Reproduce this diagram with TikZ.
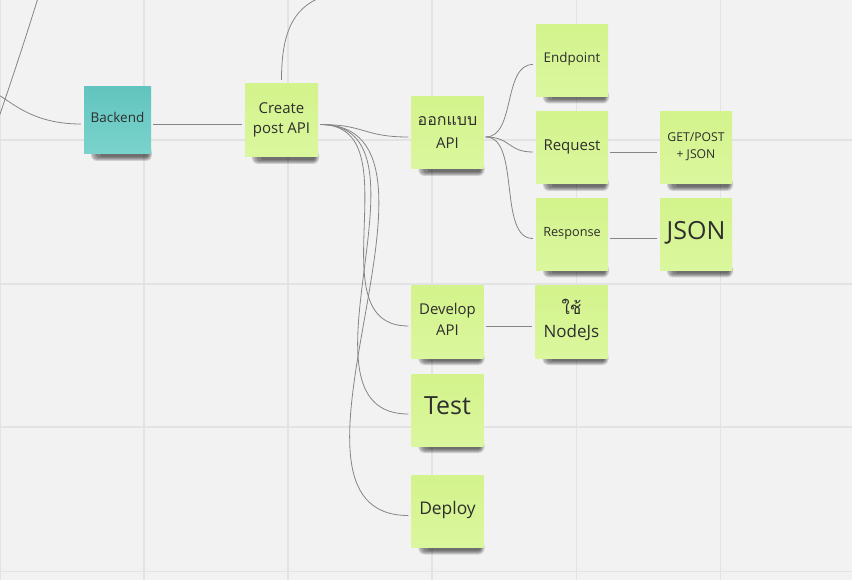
\documentclass[tikz,border=0pt]{standalone}
\usepackage{fontspec}
\setmainfont{Open Sans}
\newfontfamily\thaifont[Script=Thai]{Loma}
\definecolor{bgc}{HTML}{F2F2F2}
\definecolor{gridc}{HTML}{E3E3E3}
\definecolor{stkA}{HTML}{D3F38C}
\definecolor{stkB}{HTML}{DBF79E}
\definecolor{tealA}{HTML}{62C4BE}
\definecolor{tealB}{HTML}{7AD3CC}
\definecolor{txt}{HTML}{2E2E2E}
\definecolor{lnc}{HTML}{858585}
\tikzset{
  sticky/.style={draw=none, minimum width=72pt, minimum height=72pt, inner sep=0pt,
    text=txt, align=center, top color=stkA, bottom color=stkB},
  tealsticky/.style={sticky, minimum width=67pt, minimum height=67pt, top color=tealA, bottom color=tealB},
  conn/.style={draw=lnc, line width=0.8pt},
  shd/.style={fill=black, opacity=0.14}
}
\newcommand\up[1]{\raisebox{1pt}[\height][\depth]{\begin{tabular}{@{}c@{}}#1\end{tabular}}}
\newcommand\stkshadow[2]{%
  \begin{scope}[shift={(#1)}]
    \fill[shd, rounded corners=6pt] (-#2+7,#2-7) rectangle (#2+1,#2+7);
    \fill[shd, rounded corners=5pt] (-#2+8,#2-6) rectangle (#2,#2+6);
    \fill[shd, rounded corners=4pt] (-#2+10,#2-5) rectangle (#2-1,#2+5);
    \fill[shd, rounded corners=3pt] (-#2+12,#2-4) rectangle (#2-2,#2+4);
    \fill[shd, rounded corners=2pt] (-#2+16,#2-3) rectangle (#2-3,#2+3);
  \end{scope}}
\begin{document}
\begin{tikzpicture}[x=1pt,y=-1pt]
\useasboundingbox (0,0) rectangle (852,580);
\fill[bgc] (0,0) rectangle (852,580);
% grid
\foreach \gx in {0.5,144,288,432,576.5,720.5} \draw[gridc, line width=1.4pt] (\gx,0) -- (\gx,580);
\foreach \gy in {140,284,427,571.5} \draw[gridc, line width=1.4pt] (0,\gy) -- (852,\gy);

% shadows
\stkshadow{117.5,120.5}{33.5}
\stkshadow{281.5,120.5}{36.5}
\stkshadow{447.5,133}{36}
\stkshadow{572,60.5}{36}
\stkshadow{572,148}{36}
\stkshadow{572,234.5}{36}
\stkshadow{696,148}{36}
\stkshadow{696,234.5}{36}
\stkshadow{447.5,322}{36}
\stkshadow{571.5,322}{36}
\stkshadow{447.5,410}{36}
\stkshadow{447.5,511.5}{36}

% stickies
\node[tealsticky, font=\fontsize{13.5}{16}\selectfont] (bk) at (117.5,120.5) {\up{Backend}};
\node[sticky, minimum width=73pt, minimum height=73pt, font=\fontsize{15}{20}\selectfont] (cp) at (281.5,120.5) {\up{Create\\post API}};
\node[sticky, font=\fontsize{15}{23}\selectfont] (oa) at (447.5,133) {\up{{\thaifont\fontsize{16}{23}\selectfont ออกแบบ}\\API}};
\node[sticky, font=\fontsize{13.4}{16}\selectfont] (ep) at (572,60.5) {\up{Endpoint}};
\node[sticky, font=\fontsize{15}{18}\selectfont] (rq) at (572,148) {\up{Request}};
\node[sticky, font=\fontsize{12.7}{16}\selectfont] (rs) at (572,234.5) {\up{Response}};
\node[sticky, font=\fontsize{12.2}{17}\selectfont] (gj) at (696,148) {\up{GET/POST\\+ JSON}};
\node[sticky, font=\fontsize{25}{28}\selectfont] (js) at (696,234.5) {\up{JSON}};
\node[sticky, font=\fontsize{14.9}{21}\selectfont] (dv) at (447.5,322) {\up{Develop\\API}};
\node[sticky, font=\fontsize{17}{23}\selectfont] (nj) at (571.5,322) {\up{{\thaifont\fontsize{17}{23}\selectfont ใช้}\\NodeJs}};
\node[sticky, font=\fontsize{25}{28}\selectfont] (ts) at (447.5,410) {\up{Test}};
\node[sticky, font=\fontsize{17.4}{21}\selectfont] (dp) at (447.5,511.5) {\up{Deploy}};

% free ends of off-screen connectors
\coordinate (offA) at (-5,93);
\coordinate (offB1) at (38,-2);
\coordinate (offB2) at (-2,120);
\coordinate (offC) at (322,-3);

% connectors
\draw[conn] ([shift={(-3pt,-3.5pt)}]bk.west) .. controls (30,124) and (10,100) .. (offA);
\draw[conn] (offB1) .. controls (25,40) and (10,85) .. (offB2);
\draw[conn] ([yshift=4pt]cp.north) .. controls (281.5,35) and (292,8) .. (offC);
\draw[conn] ([shift={(2pt,-3.5pt)}]bk.east) -- ([shift={(-3pt,-3.5pt)}]cp.west);

\draw[conn] ([shift={(2pt,-4pt)}]cp.east) .. controls +(45,0) and +(-45,0) .. ([shift={(-3pt,-4pt)}]oa.west);
\draw[conn] ([shift={(2pt,-4pt)}]cp.east) .. controls +(95,0) and +(-95,0) .. ([shift={(-3pt,-4pt)}]dv.west);
\draw[conn] ([shift={(2pt,-4pt)}]cp.east) .. controls +(125,0) and +(-125,0) .. ([shift={(-3pt,-4pt)}]ts.west);
\draw[conn] ([shift={(2pt,-4pt)}]cp.east) .. controls +(157,0) and +(-157,0) .. ([shift={(-3pt,-4pt)}]dp.west);

\draw[conn] ([shift={(2pt,-4pt)}]oa.east) .. controls +(30,0) and +(-30,0) .. ([shift={(-3pt,-4pt)}]ep.west);
\draw[conn] ([shift={(2pt,-4pt)}]oa.east) .. controls +(25,0) and +(-25,0) .. ([shift={(-3pt,-4pt)}]rq.west);
\draw[conn] ([shift={(2pt,-4pt)}]oa.east) .. controls +(35,0) and +(-35,0) .. ([shift={(-3pt,-4pt)}]rs.west);

\draw[conn] ([shift={(2pt,-4pt)}]rq.east) -- ([shift={(-3pt,-4pt)}]gj.west);
\draw[conn] ([shift={(2pt,-4pt)}]rs.east) -- ([shift={(-3pt,-4pt)}]js.west);
\draw[conn] ([shift={(2pt,-4pt)}]dv.east) -- ([shift={(-3pt,-4pt)}]nj.west);
\end{tikzpicture}
\end{document}
